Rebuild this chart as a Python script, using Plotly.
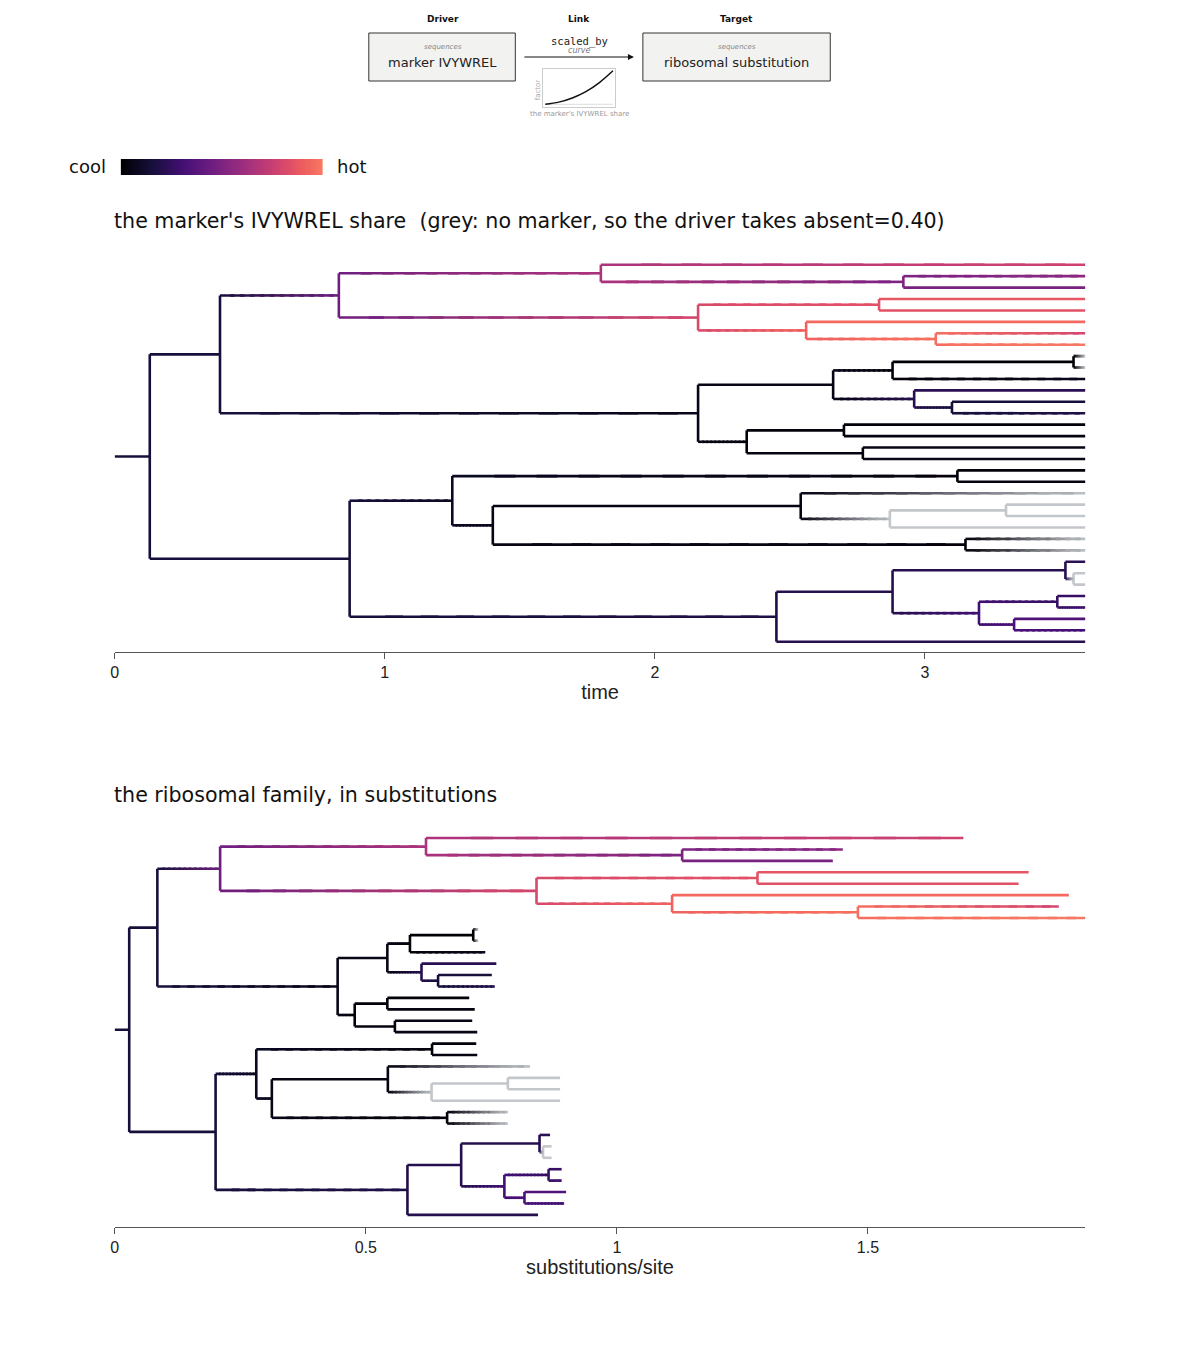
import plotly.graph_objects as go
from plotly.colors import sequential, hex_to_rgb

W, H = 1200, 1353
DX, DY = 10, 8  # page body offset

# ---------------------------------------------------------------------------
# Tree data (parent index, time, substitutions, marker share colour value)
# value None -> grey (no marker)
# ---------------------------------------------------------------------------
TMAX = 3.594
node_parent = [-1, 0, 1, 2, 3, 3, 5, 5, 2, 8, 9, 9, 8, 12, 12, 14, 14,
               1, 17, 18, 19, 20, 20, 19, 18, 24, 24, 26, 26, 17, 29, 30, 30, 29, 33, 33,
               0, 36, 37, 38, 38, 37, 41, 42, 42, 44, 45, 45, 44, 41, 49, 49,
               36, 52, 53, 54, 54, 56, 56, 53, 59, 60, 60, 59, 63, 63, 52]
node_time = [0.13, 0.39, 0.83, 1.80, TMAX, 2.92, TMAX, TMAX, 2.16, 2.83, TMAX, TMAX, 2.56, TMAX, 3.04, TMAX, TMAX,
             2.16, 2.66, 2.88, 3.55, TMAX, TMAX, TMAX, 2.96, TMAX, 3.10, TMAX, TMAX, 2.34, 2.70, TMAX, TMAX, 2.77, TMAX, TMAX,
             0.87, 1.25, 3.12, TMAX, TMAX, 1.40, 2.54, TMAX, 2.87, 3.30, TMAX, TMAX, TMAX, 3.15, TMAX, TMAX,
             2.45, 2.88, 3.52, TMAX, 3.55, TMAX, TMAX, 3.20, 3.49, TMAX, TMAX, 3.33, TMAX, TMAX, TMAX]
node_subs = [0.029, 0.085, 0.210, 0.620, 1.69, 1.13, 1.45, 1.43, 0.84, 1.28, 1.82, 1.80, 1.11, 1.90, 1.48, 1.88, 1.933,
             0.444, 0.543, 0.588, 0.714, 0.724, 0.724, 0.738, 0.611, 0.760, 0.644, 0.751, 0.757, 0.478, 0.543, 0.706, 0.717, 0.558, 0.712, 0.722,
             0.201, 0.282, 0.632, 0.720, 0.722, 0.313, 0.544, 0.827, 0.631, 0.783, 0.887, 0.887, 0.887, 0.662, 0.783, 0.783,
             0.583, 0.690, 0.846, 0.867, 0.853, 0.870, 0.870, 0.776, 0.864, 0.890, 0.890, 0.816, 0.899, 0.895, 0.843]
node_value = [0.15, 0.15, 0.45, 0.66, 0.78, 0.50, 0.55, 0.48, 0.82, 0.86, 0.88, 0.86, 0.93, 0.95, 0.97, 0.80, 1.0,
              0.05, 0.05, 0.02, 0.0, None, None, 0.06, 0.20, 0.22, 0.15, 0.15, 0.18, 0.02, 0.02, 0.02, 0.03, 0.03, 0.04, 0.05,
              0.15, 0.08, 0.02, 0.02, 0.03, 0.05, 0.04, None, None, None, None, None, None, 0.02, None, None,
              0.18, 0.20, 0.20, 0.22, None, None, None, 0.30, 0.26, 0.26, 0.30, 0.33, 0.35, 0.30, 0.20]

# inset curve of the link
share_x = [0.0, 0.2, 0.4, 0.6, 0.8, 1.0]
factor_y = [1.0, 1.12, 1.35, 1.7, 2.2, 2.85]

GREY = (195, 198, 202)
MAGMA = [hex_to_rgb(c) for c in sequential.Magma]
HOT = 0.72


def magma(f):
    f = max(0.0, min(1.0, f)) * (len(MAGMA) - 1)
    i = min(int(f), len(MAGMA) - 2)
    t = f - i
    a, b = MAGMA[i], MAGMA[i + 1]
    return tuple(a[k] + (b[k] - a[k]) * t for k in range(3))


def rgb_of(v):
    return GREY if v is None else magma(v * HOT)


def hexc(c):
    return "#%02x%02x%02x" % tuple(int(round(x)) for x in c)


# layout of the tree: leaf order, internal y = midpoint of children
n = len(node_parent)
children = [[] for _ in range(n)]
for i, p in enumerate(node_parent):
    if p >= 0:
        children[p].append(i)
ypos = [0.0] * n
leaf_count = [0]


def place(i):
    if not children[i]:
        ypos[i] = leaf_count[0]
        leaf_count[0] += 1
        return
    for c in children[i]:
        place(c)
    ypos[i] = (ypos[children[i][0]] + ypos[children[i][-1]]) / 2


place(0)


def tree_traces(xs, xa, ya, nseg=12):
    groups = {}

    def add(col, x0, x1, y0, y1):
        g = groups.setdefault(col, ([], []))
        g[0].extend([x0, x1, None])
        g[1].extend([y0, y1, None])

    for i in range(n):
        p = node_parent[i]
        if p < 0:
            add(hexc(rgb_of(node_value[i])), 0, xs[i], ypos[i], ypos[i])
            continue
        c0, c1 = rgb_of(node_value[p]), rgb_of(node_value[i])
        x0, x1 = xs[p], xs[i]
        if max(abs(c0[j] - c1[j]) for j in range(3)) < 8:
            add(hexc(c1), x0, x1, ypos[i], ypos[i])
            continue
        step = (x1 - x0) / nseg
        for k in range(nseg):
            t = (k + 0.5) / nseg
            col = tuple(c0[j] + (c1[j] - c0[j]) * t for j in range(3))
            col = tuple(round(v / 5) * 5 for v in col)
            add(hexc(col), x0 + step * k, min(x1, x0 + step * (k + 1.5)), ypos[i], ypos[i])
    for i in range(n):
        if children[i]:
            ys = [ypos[c] for c in children[i]]
            add(hexc(rgb_of(node_value[i])), xs[i], xs[i], min(ys), max(ys))
    return [go.Scatter(x=g[0], y=g[1], mode="lines", xaxis=xa, yaxis=ya,
                       line=dict(color=col, width=2.6), hoverinfo="skip", showlegend=False)
            for col, g in groups.items()]


def px(x):
    return (x - DX) / W


def py(y):
    return 1 - (y - DY) / H


fig = go.Figure()
for tr in tree_traces(node_time, "x", "y"):
    fig.add_trace(tr)
for tr in tree_traces(node_subs, "x2", "y2"):
    fig.add_trace(tr)

# colour bar
fig.add_trace(go.Heatmap(z=[[i / 99 for i in range(100)]], xaxis="x3", yaxis="y3",
                         colorscale=[[k / 20, hexc(magma(HOT * k / 20))] for k in range(21)],
                         showscale=False, hoverinfo="skip"))

# inset curve
fig.add_trace(go.Scatter(x=[0, 1], y=[1.0, 1.0], mode="lines", xaxis="x4", yaxis="y4",
                         line=dict(color="#dddddd", width=1), showlegend=False, hoverinfo="skip"))
fig.add_trace(go.Scatter(x=share_x, y=factor_y, mode="lines", xaxis="x4", yaxis="y4", line_shape="spline",
                         line=dict(color="#111111", width=1.5), showlegend=False, hoverinfo="skip"))

tick_font = dict(family="Liberation Sans, Arial", size=16, color="#222")
title_font = dict(family="Liberation Sans, Arial", size=20, color="#222")
xcommon = dict(showline=True, linecolor="#555", linewidth=1, ticks="outside", ticklen=6, tickcolor="#555",
               showgrid=False, zeroline=False, tickfont=tick_font)

fig.update_layout(
    width=W, height=H, margin=dict(l=0, r=0, t=0, b=0),
    plot_bgcolor="white", paper_bgcolor="white", showlegend=False,
    xaxis=dict(domain=[px(113), px(1087)], range=[0, TMAX], tickvals=[0, 1, 2, 3],
               title=dict(text="time", font=title_font, standoff=4), anchor="y", **xcommon),
    yaxis=dict(domain=[py(652), py(250)], range=[33.9, -1.29], visible=False),
    xaxis2=dict(domain=[px(113), px(1087)], range=[0, 1.933], tickvals=[0, 0.5, 1, 1.5],
                title=dict(text="substitutions/site", font=title_font, standoff=4), anchor="y2", **xcommon),
    yaxis2=dict(domain=[py(1227), py(825)], range=[34.06, -1.14], visible=False),
    xaxis3=dict(domain=[px(119), px(322)], visible=False, anchor="y3"),
    yaxis3=dict(domain=[py(175), py(159)], visible=False, anchor="x3"),
    xaxis4=dict(domain=[px(543), px(615)], range=[-0.03, 1.03], showline=True, mirror=True, linecolor="#ccc",
                showticklabels=False, ticks="", showgrid=False, zeroline=False, anchor="y4"),
    yaxis4=dict(domain=[py(107), py(69)], range=[0.85, 2.95], showline=True, mirror=True, linecolor="#ccc",
                showticklabels=False, ticks="", showgrid=False, zeroline=False, anchor="x4"),
)

dv = "DejaVu Sans"
ann = [
    dict(x=px(110), y=py(221), text="the marker's IVYWREL share  (grey: no marker, so the driver takes absent=0.40)",
         xanchor="left", font=dict(family=dv, size=20.6, color="#111")),
    dict(x=px(110), y=py(795), text="the ribosomal family, in substitutions",
         xanchor="left", font=dict(family=dv, size=20.6, color="#111")),
    dict(x=px(106), y=py(166), text="cool", xanchor="right", font=dict(family=dv, size=18, color="#111")),
    dict(x=px(334), y=py(166), text="hot", xanchor="left", font=dict(family=dv, size=18, color="#111")),
    dict(x=px(442), y=py(19), text="<b>Driver</b>", font=dict(family=dv, size=9, color="#111")),
    dict(x=px(579), y=py(19), text="<b>Link</b>", font=dict(family=dv, size=9, color="#111")),
    dict(x=px(737), y=py(19), text="<b>Target</b>", font=dict(family=dv, size=9, color="#111")),
    dict(x=px(442), y=py(47), text="<i>sequences</i>", font=dict(family=dv, size=7, color="#888")),
    dict(x=px(442), y=py(62), text="marker IVYWREL", font=dict(family=dv, size=13, color="#222")),
    dict(x=px(737), y=py(47), text="<i>sequences</i>", font=dict(family=dv, size=7, color="#888")),
    dict(x=px(737), y=py(62), text="ribosomal substitution", font=dict(family=dv, size=13, color="#222")),
    dict(x=px(579), y=py(41), text="scaled_by", font=dict(family="DejaVu Sans Mono", size=10.5, color="#222")),
    dict(x=px(579), y=py(51), text="<i>curve</i>", font=dict(family=dv, size=8, color="#777")),
    dict(x=px(538), y=py(90), text="factor", textangle=-90, font=dict(family=dv, size=7, color="#aaa")),
    dict(x=px(579), y=py(114), text="the marker's IVYWREL share", font=dict(family=dv, size=7, color="#999")),
    dict(x=px(634), y=py(57), ax=-111, ay=0, axref="pixel", ayref="pixel", text="",
         showarrow=True, arrowhead=2, arrowsize=1, arrowwidth=1.2, arrowcolor="#111"),
]
for a in ann:
    a.setdefault("xref", "paper")
    a.setdefault("yref", "paper")
    a.setdefault("showarrow", False)
    a.setdefault("xanchor", "center")
    a.setdefault("yanchor", "middle")
    fig.add_annotation(**a)

for x0, x1 in [(368, 515), (643, 831)]:
    fig.add_shape(type="rect", xref="paper", yref="paper", x0=px(x0), x1=px(x1), y0=py(81), y1=py(33),
                  fillcolor="#f2f2f0", line=dict(color="#333", width=1), layer="below")

fig.write_html("out.html")
